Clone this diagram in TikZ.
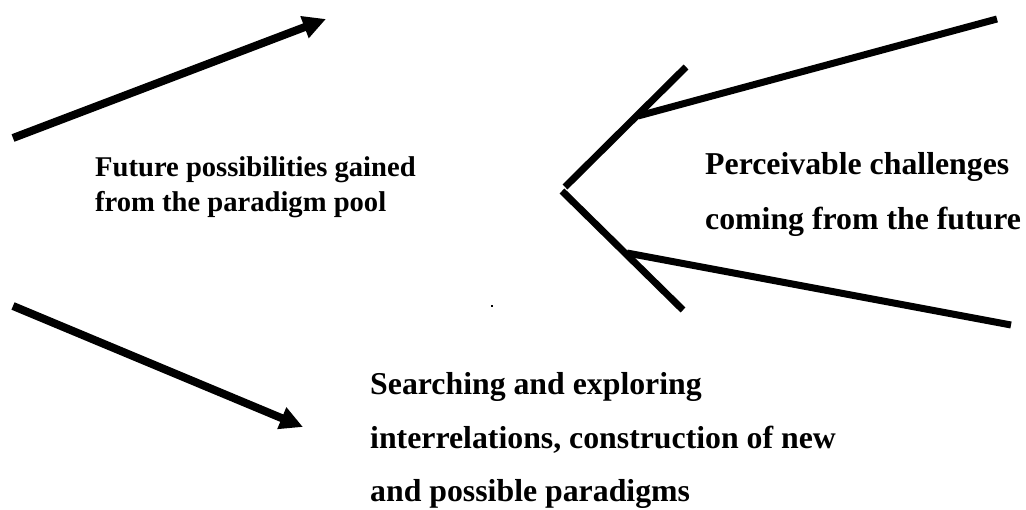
\documentclass[tikz,border=0pt]{standalone}
\usepackage{fontspec}
\setmainfont{Liberation Serif}
\usetikzlibrary{arrows.meta}
\tikzset{
  label text/.style={anchor=base west, inner sep=0pt, font=\fontsize{31.8}{35}\selectfont\bfseries},
  small label/.style={label text, font=\fontsize{28.6}{32}\selectfont\bfseries},
  thick arrow/.style={line width=8pt, -{Triangle[length=23pt,width=22pt]}},
  wedge line/.style={line width=7pt, line cap=butt},
}
\begin{document}
\begin{tikzpicture}[x=1pt, y=-1pt]
  \useasboundingbox (0,0) rectangle (1026,510);

  % end points of the two open arrows on the left
  \coordinate (upStart) at (13,138);
  \coordinate (upEnd)   at (326,19);
  \coordinate (dnStart) at (13,306);
  \coordinate (dnEnd)   at (303,427);

  % end points of the arrow-shaped wedge on the right
  \coordinate (topFar)   at (997,19);
  \coordinate (topJoin)  at (638,116);
  \coordinate (topBarA)  at (686,67);
  \coordinate (topBarB)  at (565,187);
  \coordinate (botBarA)  at (562,191);
  \coordinate (botBarB)  at (683,310);
  \coordinate (botJoin)  at (627,253);
  \coordinate (botFar)   at (1011,325);

  \draw[thick arrow] (upStart) -- (upEnd);
  \draw[thick arrow] (dnStart) -- (dnEnd);

  \draw[wedge line] (topFar) -- (topJoin);
  \draw[wedge line] (topBarA) -- (topBarB);
  \draw[wedge line] (botBarA) -- (botBarB);
  \draw[wedge line] (botJoin) -- (botFar);

  % stray mark
  \fill (491,305) rectangle (493,307);

  % texts
  \node[small label] (fut1) at (95,177) {Future possibilities gained};
  \node[small label] (fut2) at (95,212) {from the paradigm pool};

  \node[label text] (per1) at (705,175) {Perceivable challenges};
  \node[label text] (per2) at (705,230) {coming from the future};

  \node[label text] (sea1) at (370,395) {Searching and exploring};
  \node[label text] (sea2) at (370,449) {interrelations, construction of new};
  \node[label text] (sea3) at (370,502) {and possible paradigms};
\end{tikzpicture}
\end{document}
